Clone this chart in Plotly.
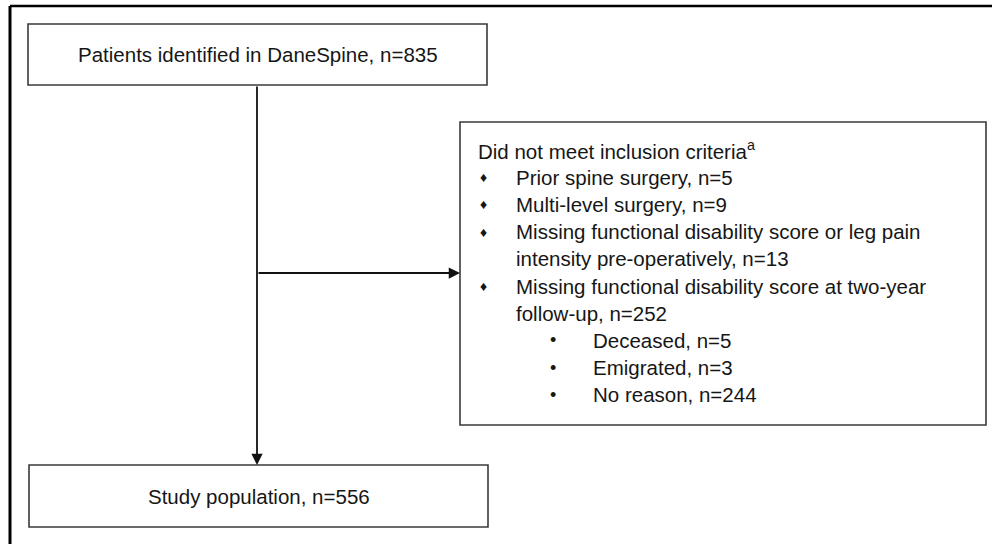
import plotly.graph_objects as go

# ---------------- data ----------------
source_label = "Patients identified in DaneSpine"
source_n = 835
exclusion_title = "Did not meet inclusion criteria"
exclusion_reasons = [
    ["Prior spine surgery"],
    ["Multi-level surgery"],
    ["Missing functional disability score or leg pain", "intensity pre-operatively"],
    ["Missing functional disability score at two-year", "follow-up"],
]
exclusion_n = [5, 9, 13, 252]
followup_reasons = ["Deceased", "Emigrated", "No reason"]
followup_n = [5, 3, 244]
study_label = "Study population"
study_n = 556

# ---------------- layout / style ----------------
W, H = 992, 544
FONT = "Liberation Sans, Arial, sans-serif"
TXT = "#161616"
BOX = "#3a3a3a"
FS = 20.5

top_box = dict(x0=28, x1=487, y0=24, y1=85)
bot_box = dict(x0=29, x1=488, y0=465, y1=527)
side_box = dict(x0=460, x1=986, y0=122, y1=425)
trunk_x = 257
branch_y = 273

line_y0 = 150
line_dy = 27.2
title_x = 476
bullet_x = 483
text_x = 514
sub_bullet_x = 553
sub_text_x = 591

fig = go.Figure()

shapes = []
# outer frame (left and top edges visible)
shapes.append(dict(type="line", x0=10, x1=10, y0=6, y1=H + 5, line=dict(color="black", width=3)))
shapes.append(dict(type="line", x0=10, x1=W + 5, y0=6, y1=6, line=dict(color="black", width=2.5)))
for b in (top_box, bot_box, side_box):
    shapes.append(dict(type="rect", **b, line=dict(color=BOX, width=1.6), fillcolor="white", layer="below"))

annotations = []
# arrows
annotations.append(dict(x=trunk_x, y=bot_box["y0"], ax=trunk_x, ay=top_box["y1"],
                        xref="x", yref="y", axref="x", ayref="y", text="",
                        showarrow=True, arrowhead=2, arrowsize=1.25, arrowwidth=1.8, arrowcolor="#111"))
annotations.append(dict(x=side_box["x0"], y=branch_y, ax=trunk_x, ay=branch_y,
                        xref="x", yref="y", axref="x", ayref="y", text="",
                        showarrow=True, arrowhead=2, arrowsize=1.25, arrowwidth=1.8, arrowcolor="#111"))

def txt(x, y, s, anchor="left", size=FS):
    annotations.append(dict(x=x, y=y, xref="x", yref="y", text=s, showarrow=False,
                            xanchor=anchor, yanchor="middle",
                            font=dict(family=FONT, size=size, color=TXT)))

txt((top_box["x0"] + top_box["x1"]) / 2, (top_box["y0"] + top_box["y1"]) / 2,
    f"{source_label}, n={source_n}", anchor="center")
txt((bot_box["x0"] + bot_box["x1"]) / 2, (bot_box["y0"] + bot_box["y1"]) / 2,
    f"{study_label}, n={study_n}", anchor="center")

row = 0
txt(title_x, line_y0, exclusion_title + "<sup>a</sup>")
row += 1
for lines, n in zip(exclusion_reasons, exclusion_n):
    y = line_y0 + row * line_dy
    txt(bullet_x, y, "♦", anchor="center", size=14)
    for i, ln in enumerate(lines):
        s = ln + (f", n={n}" if i == len(lines) - 1 else "")
        txt(text_x, line_y0 + row * line_dy, s)
        row += 1
for r, n in zip(followup_reasons, followup_n):
    y = line_y0 + row * line_dy
    txt(sub_bullet_x, y, "•", anchor="center", size=18)
    txt(sub_text_x, y, f"{r}, n={n}")
    row += 1

fig.update_layout(
    width=W, height=H,
    margin=dict(l=0, r=0, t=0, b=0),
    paper_bgcolor="white", plot_bgcolor="white",
    xaxis=dict(range=[0, W], visible=False, fixedrange=True),
    yaxis=dict(range=[H, 0], visible=False, fixedrange=True),
    shapes=shapes, annotations=annotations,
    showlegend=False,
)

fig.write_html(
    "out.html",
    config={"displayModeBar": False},
    post_script="document.body.style.margin='0';document.body.style.overflow='hidden';",
)
